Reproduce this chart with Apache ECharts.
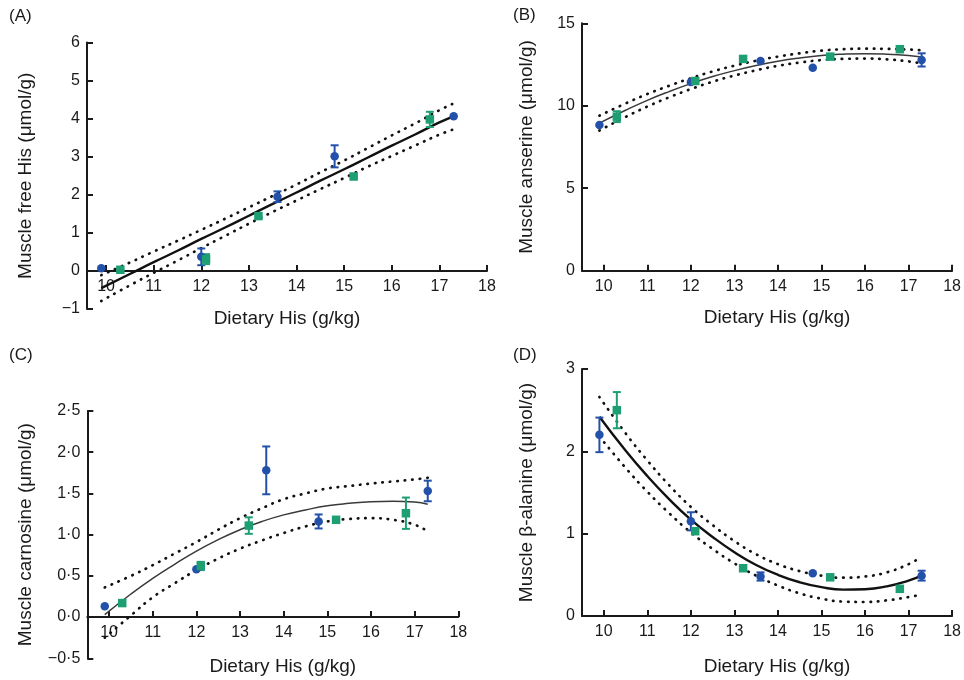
<!DOCTYPE html>
<html><head><meta charset="utf-8">
<script src="https://cdn.jsdelivr.net/npm/echarts@6/dist/echarts.min.js"></script>
<style>html,body{margin:0;padding:0;background:#fff}#c{width:964px;height:680px}</style>
</head><body><div id="c"></div>
<script>
// ---- shared x values ----
const xBlue = [9.9, 12.0, 13.6, 14.8, 17.3];
const xGreen = [10.3, 12.1, 13.2, 15.2, 16.8];
const fitX = [9.9, 10.5, 11, 11.5, 12, 12.5, 13, 13.5, 14, 14.5, 15, 15.5, 16, 16.5, 17, 17.3];
const xTicks = [10, 11, 12, 13, 14, 15, 16, 17, 18];
const xTitle = 'Dietary His (g/kg)';

// ---- (A) muscle free His ----
const hisBlue = [0.07, 0.37, 1.95, 3.01, 4.06];
const hisBlueSE = [0, 0.22, 0.14, 0.29, 0];
const hisGreen = [0.03, 0.31, 1.44, 2.48, 3.98];
const hisGreenSE = [0, 0.13, 0, 0, 0.2];
const hisFit = [-0.45, -0.08, 0.23, 0.53, 0.84, 1.14, 1.45, 1.76, 2.06, 2.37, 2.67, 2.98, 3.29, 3.59, 3.90, 4.06];
const hisUpper = [-0.11, 0.22, 0.51, 0.79, 1.08, 1.37, 1.67, 1.97, 2.27, 2.59, 2.90, 3.23, 3.56, 3.88, 4.22, 4.40];
const hisLower = [-0.79, -0.38, -0.05, 0.27, 0.60, 0.92, 1.24, 1.55, 1.85, 2.15, 2.44, 2.74, 3.02, 3.30, 3.58, 3.72];
const yTicksA = [-1, 0, 1, 2, 3, 4, 5, 6];
const yLabelsA = ['\u22121', '0', '1', '2', '3', '4', '5', '6'];

// ---- (B) muscle anserine ----
const ansBlue = [8.84, 11.44, 12.72, 12.31, 12.78];
const ansBlueSE = [0, 0, 0, 0, 0.4];
const ansGreen = [9.34, 11.5, 12.84, 12.98, 13.43];
const ansGreenSE = [0.33, 0.15, 0, 0, 0];
const ansFit = [8.95, 9.73, 10.33, 10.86, 11.34, 11.77, 12.13, 12.44, 12.70, 12.90, 13.05, 13.13, 13.16, 13.13, 13.05, 12.96];
const ansUpper = [9.40, 10.14, 10.71, 11.21, 11.67, 12.08, 12.43, 12.73, 12.98, 13.18, 13.34, 13.43, 13.46, 13.45, 13.41, 13.36];
const ansLower = [8.50, 9.32, 9.95, 10.51, 11.01, 11.46, 11.83, 12.15, 12.42, 12.62, 12.77, 12.84, 12.86, 12.81, 12.69, 12.56];
const yTicksB = [0, 5, 10, 15];
const yLabelsB = ['0', '5', '10', '15'];

// ---- (C) muscle carnosine ----
const carBlue = [0.13, 0.58, 1.78, 1.16, 1.53];
const carBlueSE = [0, 0, 0.29, 0.085, 0.125];
const carGreen = [0.17, 0.62, 1.11, 1.18, 1.26];
const carGreenSE = [0, 0.05, 0.1, 0, 0.19];
const carFit = [0.03, 0.28, 0.47, 0.64, 0.80, 0.94, 1.06, 1.16, 1.24, 1.30, 1.35, 1.38, 1.40, 1.405, 1.395, 1.37];
const carUpper = [0.36, 0.50, 0.63, 0.77, 0.91, 1.06, 1.20, 1.32, 1.43, 1.50, 1.56, 1.59, 1.62, 1.645, 1.67, 1.69];
const carLower = [-0.25, 0.02, 0.24, 0.41, 0.57, 0.71, 0.83, 0.93, 1.02, 1.10, 1.16, 1.19, 1.20, 1.18, 1.12, 1.04];
const yTicksC = [-0.5, 0, 0.5, 1, 1.5, 2, 2.5];
const yLabelsC = ['\u22120\u00b75', '0\u00b70', '0\u00b75', '1\u00b70', '1\u00b75', '2\u00b70', '2\u00b75'];

// ---- (D) muscle beta-alanine ----
const alaBlue = [2.20, 1.15, 0.48, 0.52, 0.49];
const alaBlueSE = [0.21, 0.11, 0.05, 0, 0.06];
const alaGreen = [2.50, 1.03, 0.58, 0.47, 0.33];
const alaGreenSE = [0.22, 0, 0, 0, 0];
const alaFit = [2.42, 2.01, 1.70, 1.42, 1.17, 0.96, 0.775, 0.62, 0.50, 0.41, 0.35, 0.32, 0.325, 0.36, 0.43, 0.49];
const alaUpper = [2.66, 2.22, 1.89, 1.59, 1.325, 1.105, 0.91, 0.75, 0.63, 0.545, 0.49, 0.465, 0.48, 0.53, 0.63, 0.72];
const alaLower = [2.18, 1.80, 1.51, 1.25, 1.015, 0.815, 0.64, 0.49, 0.37, 0.275, 0.21, 0.175, 0.17, 0.19, 0.23, 0.26];
const yTicksD = [0, 1, 2, 3];
const yLabelsD = ['0', '1', '2', '3'];

const BLUE = '#2350a8', GREEN = '#1d9e73', INK = '#1a1a1a';
const FONT = "'Liberation Sans', Arial, sans-serif";

const panels = [
  {tag:'(A)', tagPos:[9, 8], grid:{left:87, top:42.5, width:400, height:266.5}, xMin:9.6,
   yTicks:yTicksA, yLabels:yLabelsA, yName:'Muscle free His (\u03bcmol/g)',
   fit:hisFit, up:hisUpper, lo:hisLower, blue:hisBlue, blueSE:hisBlueSE, green:hisGreen, greenSE:hisGreenSE,
   fitW:2.4, fitC:'#111', yGap:52, xGap:38.5, xPad:0},
  {tag:'(B)', tagPos:[513, 7], grid:{left:582, top:23.3, width:371.5, height:247.4}, xMin:9.5,
   yTicks:yTicksB, yLabels:yLabelsB, yName:'Muscle anserine (\u03bcmol/g)',
   fit:ansFit, up:ansUpper, lo:ansLower, blue:ansBlue, blueSE:ansBlueSE, green:ansGreen, greenSE:ansGreenSE,
   fitW:1.5, fitC:'#3a3a3a', yGap:46, xGap:38, xPad:20},
  {tag:'(C)', tagPos:[9, 347], grid:{left:87.3, top:411, width:371, height:247.3}, xMin:9.5,
   yTicks:yTicksC, yLabels:yLabelsC, yName:'Muscle carnosine (\u03bcmol/g)',
   fit:carFit, up:carUpper, lo:carLower, blue:carBlue, blueSE:carBlueSE, green:carGreen, greenSE:carGreenSE,
   fitW:1.5, fitC:'#3a3a3a', yGap:52, xGap:40.5, xPad:20},
  {tag:'(D)', tagPos:[513, 347], grid:{left:582, top:369, width:371.5, height:247}, xMin:9.5,
   yTicks:yTicksD, yLabels:yLabelsD, yName:'Muscle \u03b2-alanine (\u03bcmol/g)',
   fit:alaFit, up:alaUpper, lo:alaLower, blue:alaBlue, blueSE:alaBlueSE, green:alaGreen, greenSE:alaGreenSE,
   fitW:2.4, fitC:'#111', yGap:46, xGap:41, xPad:20}
];

function errRender(color) {
  return function (params, api) {
    const x = api.value(0), y = api.value(1), e = api.value(2);
    if (!e) return {type: 'group', children: []};
    const t = api.coord([x, y + e]), b = api.coord([x, y - e]);
    const hw = 4, st = {stroke: color, lineWidth: 2};
    return {type: 'group', children: [
      {type: 'line', shape: {x1: t[0], y1: t[1], x2: b[0], y2: b[1]}, style: st},
      {type: 'line', shape: {x1: t[0] - hw, y1: t[1], x2: t[0] + hw, y2: t[1]}, style: st},
      {type: 'line', shape: {x1: b[0] - hw, y1: b[1], x2: b[0] + hw, y2: b[1]}, style: st}
    ]};
  };
}

const option = {animation: false, backgroundColor: '#fff', grid: [], xAxis: [], yAxis: [], series: [], graphic: []};
const axisTick = {show: true, inside: true, length: 6, lineStyle: {color: INK, width: 2}};

panels.forEach((p, i) => {
  const yt = p.yTicks, yl = p.yLabels;
  const yMin = yt[0], yMax = yt[yt.length - 1];
  // x axis sits on the zero line of the value axis
  const zeroOffset = p.grid.height * (0 - yMin) / (yMax - yMin);
  option.grid.push(Object.assign({containLabel: false}, p.grid));
  option.xAxis.push({
    type: 'value', gridIndex: i, min: p.xMin, max: 18, position: 'bottom', offset: -zeroOffset,
    axisLine: {show: true, onZero: false, lineStyle: {color: INK, width: 2}},
    axisTick: Object.assign({customValues: xTicks}, axisTick),
    axisLabel: {customValues: xTicks, color: INK, fontSize: 16, fontFamily: FONT, margin: 8,
      formatter: v => String(v)},
    splitLine: {show: false},
    name: xTitle, nameLocation: 'middle', nameGap: p.xGap,
    nameTextStyle: {color: INK, fontSize: 19, fontFamily: FONT, padding: [0, 0, 0, p.xPad]}
  });
  option.yAxis.push({
    type: 'value', gridIndex: i, min: yMin, max: yMax, interval: yt[1] - yt[0],
    axisLine: {show: true, onZero: false, lineStyle: {color: INK, width: 2}},
    axisTick: axisTick,
    axisLabel: {color: INK, fontSize: 16, fontFamily: FONT, margin: 7,
      formatter: v => { const k = yt.findIndex(t => Math.abs(t - v) < 1e-6); return k >= 0 ? yl[k] : ''; }},
    splitLine: {show: false},
    name: p.yName, nameLocation: 'middle', nameGap: p.yGap,
    nameTextStyle: {color: INK, fontSize: 19, fontFamily: FONT}
  });
  const dotted = {color: '#111', width: 2.7, type: [0.5, 7], cap: 'round'};
  const mk = (arr) => fitX.map((x, j) => [x, arr[j]]);
  option.series.push(
    {type: 'line', xAxisIndex: i, yAxisIndex: i, data: mk(p.up), smooth: true, symbol: 'none', silent: true, lineStyle: dotted, z: 2},
    {type: 'line', xAxisIndex: i, yAxisIndex: i, data: mk(p.lo), smooth: true, symbol: 'none', silent: true, lineStyle: dotted, z: 2},
    {type: 'line', xAxisIndex: i, yAxisIndex: i, data: mk(p.fit), smooth: true, symbol: 'none', silent: true,
      lineStyle: {color: p.fitC, width: p.fitW}, z: 3},
    {type: 'custom', xAxisIndex: i, yAxisIndex: i, renderItem: errRender(BLUE), encode: {x: 0, y: 1},
      data: xBlue.map((x, j) => [x, p.blue[j], p.blueSE[j]]), z: 4, silent: true},
    {type: 'custom', xAxisIndex: i, yAxisIndex: i, renderItem: errRender(GREEN), encode: {x: 0, y: 1},
      data: xGreen.map((x, j) => [x, p.green[j], p.greenSE[j]]), z: 4, silent: true},
    {type: 'scatter', xAxisIndex: i, yAxisIndex: i, symbol: 'circle', symbolSize: 8.5,
      itemStyle: {color: BLUE, opacity: 1}, data: xBlue.map((x, j) => [x, p.blue[j]]), z: 5, silent: true},
    {type: 'scatter', xAxisIndex: i, yAxisIndex: i, symbol: 'rect', symbolSize: 8.5,
      itemStyle: {color: GREEN, opacity: 1}, data: xGreen.map((x, j) => [x, p.green[j]]), z: 5, silent: true}
  );
  option.graphic.push({type: 'text', left: p.tagPos[0], top: p.tagPos[1],
    style: {text: p.tag, fill: INK, font: '17px ' + FONT}});
});

const chart = echarts.init(document.getElementById('c'), null, {renderer: 'canvas'});
chart.setOption(option);
</script>
</body></html>
